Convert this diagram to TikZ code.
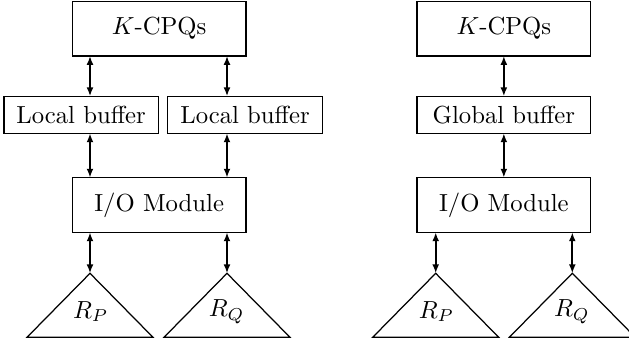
\documentclass[tikz,border=0pt]{standalone}
\usetikzlibrary{arrows.meta}
\begin{document}
\begin{tikzpicture}[x=0.405pt,y=-0.405pt,
  box/.style={draw,line width=0.5pt,inner sep=0pt,outer sep=0pt,minimum height=#1},
  link/.style={{Latex[length=3.6pt,width=2.8pt]}-{Latex[length=3.6pt,width=2.8pt]},line width=0.8pt},
  tri/.style={draw,line width=0.5pt},
  lbl/.style={inner sep=0pt}]
\useasboundingbox (0,0) rectangle (629,342);
% left diagram
\node[box=22.15pt,minimum width=70.3pt] (k1) at (159.15,28.6) {$K$-CPQs};
\node[box=15pt,minimum width=62.5pt] (lb1) at (81.15,114.8) {Local buffer};
\node[box=15pt,minimum width=62.9pt] (lb2) at (245,114.8) {Local buffer};
\node[box=22.15pt,minimum width=70.3pt] (io1) at (159.15,205) {I/O Module};
\coordinate (pa) at (90,273.3);
\coordinate (qa) at (227,273.3);
\draw[tri] (pa) -- ++(-63,64) -- ++(126,0) -- cycle;
\draw[tri] (qa) -- ++(-63,64) -- ++(126,0) -- cycle;
\node[lbl] (rp1) at (90.7,311.7) {$R_P$};
\node[lbl] (rq1) at (226.7,311.7) {$R_Q$};
\draw[link] (k1.south -| pa) -- (lb1.north -| pa);
\draw[link] (k1.south -| qa) -- (lb2.north -| qa);
\draw[link] (lb1.south -| pa) -- (io1.north -| pa);
\draw[link] (lb2.south -| qa) -- (io1.north -| qa);
\draw[link] (io1.south -| pa) -- (pa);
\draw[link] (io1.south -| qa) -- (qa);
% right diagram
\node[box=22.15pt,minimum width=70.3pt] (k2) at (503.85,28.6) {$K$-CPQs};
\node[box=15pt,minimum width=70.3pt] (gb) at (503.85,114.8) {Global buffer};
\node[box=22.15pt,minimum width=70.3pt] (io2) at (503.85,205) {I/O Module};
\coordinate (pa2) at (435.7,273.3);
\coordinate (qa2) at (572.3,273.3);
\draw[tri] (pa2) -- ++(-63,64) -- ++(126,0) -- cycle;
\draw[tri] (qa2) -- ++(-63,64) -- ++(126,0) -- cycle;
\node[lbl] (rp2) at (436.4,311.7) {$R_P$};
\node[lbl] (rq2) at (572,311.7) {$R_Q$};
\draw[link] (k2.south) -- (gb.north);
\draw[link] (gb.south) -- (io2.north);
\draw[link] (io2.south -| pa2) -- (pa2);
\draw[link] (io2.south -| qa2) -- (qa2);
\end{tikzpicture}
\end{document}
